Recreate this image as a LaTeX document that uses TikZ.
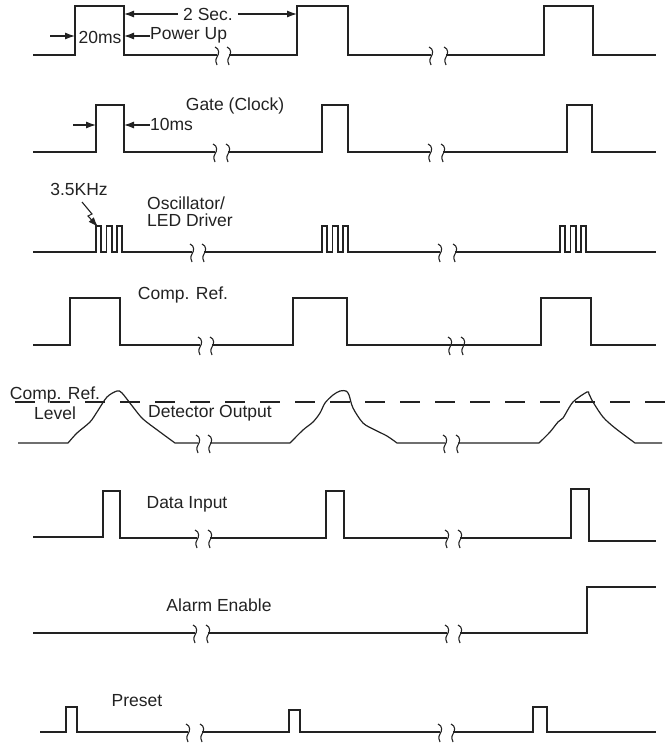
\documentclass[tikz,border=0pt]{standalone}
\usepackage{fontspec}
\setmainfont{Liberation Sans}
\usetikzlibrary{arrows.meta}
\definecolor{ink}{HTML}{222222}
\tikzset{
  wave/.style={draw=ink, line width=1.3pt, line join=miter},
  dim/.style={draw=ink, line width=1.1pt, -{Latex[length=10pt,width=7pt]}},
  lbl/.style={font=\fontsize{17.5}{17}\selectfont, text=ink, inner sep=0pt},
  brk/.pic={\draw[draw=ink, line width=1.1pt] (-2,-8) .. controls (3,-6) and (2,-1) .. (0,2) .. controls (-2,5) and (-1,8) .. (0,10);}
}
\begin{document}
\begin{tikzpicture}[x=1pt,y=-1pt]
\useasboundingbox (0,0) rectangle (669,750);
% ---------- Row 1: Power Up ----------
\draw[wave] (33,55) -- (75,55) -- (75,6) -- (124,6) -- (124,55) -- (217,55);
\draw[wave] (229,55) -- (297,55) -- (297,6) -- (348,6) -- (348,55) -- (431,55);
\draw[wave] (446,55) -- (544,55) -- (544,6) -- (593,6) -- (593,55) -- (656,55);
\pic at (217,55) {brk}; \pic at (229,55) {brk};
\pic at (431,55) {brk}; \pic at (446,55) {brk};
\coordinate (p1f) at (124,14); \coordinate (p2r) at (297,14);
\node[lbl] (twosec) at (208,14) {2 Sec.};
\draw[dim] (twosec.west) ++(-5,0) -- (p1f);
\draw[dim] (twosec.east) ++(5,0) -- (p2r);
\node[lbl] (ms20) at (100,37) {20ms};
\coordinate (a20s) at (50,36); \coordinate (a20e) at (75,36);
\draw[dim] (a20s) -- (a20e);
\node[lbl, anchor=west] (pwr) at (150,35) {Power Up};
\coordinate (pwe) at (124,36);
\draw[dim] (pwr.west |- pwe) -- (pwe);
% ---------- Row 2: Gate ----------
\draw[wave] (33,152) -- (96,152) -- (96,105) -- (124,105) -- (124,152) -- (215,152);
\draw[wave] (228,152) -- (322,152) -- (322,105) -- (348,105) -- (348,152) -- (430,152);
\draw[wave] (443,152) -- (567,152) -- (567,105) -- (592,105) -- (592,152) -- (656,152);
\pic at (215,152) {brk}; \pic at (228,152) {brk};
\pic at (430,152) {brk}; \pic at (443,152) {brk};
\node[lbl] (gate) at (235,106) {Gate (Clock)};
\coordinate (g1s) at (73,125); \coordinate (g1e) at (96,125);
\draw[dim] (g1s) -- (g1e);
\node[lbl, anchor=west] (ms10) at (150,124) {10ms};
\coordinate (g2e) at (124,125);
\draw[dim] (ms10.west |- g2e) -- (g2e);
% ---------- Row 3: Oscillator ----------
\draw[wave] (33,252) -- (96,252) -- (96,226) -- (101,226) -- (101,252) -- (106.5,252) -- (106.5,226) -- (112,226) -- (112,252) -- (117,252) -- (117,226) -- (122,226) -- (122,252) -- (192,252);
\draw[wave] (204,252) -- (322,252) -- (322,226) -- (327,226) -- (327,252) -- (332.5,252) -- (332.5,226) -- (338,226) -- (338,252) -- (343,252) -- (343,226) -- (348,226) -- (348,252) -- (440,252);
\draw[wave] (455,252) -- (560,252) -- (560,226) -- (565,226) -- (565,252) -- (570.5,252) -- (570.5,226) -- (576,226) -- (576,252) -- (581,252) -- (581,226) -- (586,226) -- (586,252) -- (656,252);
\pic at (192,252) {brk}; \pic at (204,252) {brk};
\pic at (440,252) {brk}; \pic at (455,252) {brk};
\node[lbl] (khz) at (79,189) {3.5KHz};
\coordinate (k0) at (82,202); \coordinate (k1) at (92,214); \coordinate (k2) at (88,216); \coordinate (k3) at (98,227);
\draw[dim] (k0) -- (k1) -- (k2) -- (k3);
\node[lbl, anchor=west, align=left] (osc) at (147,211.5) {Oscillator/\\LED Driver};
% ---------- Row 4: Comp. Ref. ----------
\draw[wave] (33,345) -- (70,345) -- (70,298) -- (120,298) -- (120,345) -- (200,345);
\draw[wave] (212,345) -- (293,345) -- (293,298) -- (347,298) -- (347,345) -- (450,345);
\draw[wave] (450,345) -- (541,345) -- (541,298) -- (591,298) -- (591,345) -- (656,345);
\pic at (200,345) {brk}; \pic at (212,345) {brk};
\pic at (450,345) {brk}; \pic at (463,345) {brk};
\node[lbl] (cref) at (183,295) {Comp. Ref.};
% ---------- Row 5: Detector Output ----------
\coordinate (dl0) at (15,402); \coordinate (dl1) at (669,402);
\draw[draw=ink, line width=1.3pt, dash pattern=on 20pt off 15pt] (dl0) -- (dl1);
\draw[wave, line width=1.2pt] (18,443) -- (68,443) plot[smooth, tension=0.5] coordinates {(68,443) (77,433) (90,422) (97,412) (107,397) (117,391) (122,393) (133,407) (143,419) (160,432) (175,443)} -- (198,443);
\draw[wave, line width=1.2pt] (210,443) -- (290,443) plot[smooth, tension=0.5] coordinates {(290,443) (303,430) (313,422) (320,413) (325,403) (333,395) (340,391) (346,391) (349,395) (353,408) (363,423) (375,430) (387,436) (397,443)} -- (445,443);
\draw[wave, line width=1.2pt] (458,443) -- (539,443) plot[smooth, tension=0.5] coordinates {(539,443) (550,432) (558,422) (563,418) (573,402) (587,392) (589,394) (593,402) (603,417) (615,428) (635,443)} -- (662,443);
\pic at (198,443) {brk}; \pic at (210,443) {brk};
\pic at (445,443) {brk}; \pic at (458,443) {brk};
\node[lbl] (crl1) at (55,395) {Comp. Ref.};
\node[lbl] (crl2) at (55,413) {Level};
\node[lbl] (det) at (210,413) {Detector Output};
% ---------- Row 6: Data Input ----------
\draw[wave] (33,537) -- (103,537) -- (103,491) -- (120,491) -- (120,538) -- (197,538);
\draw[wave] (210,538) -- (326,538) -- (326,491) -- (344,491) -- (344,538) -- (447,538);
\draw[wave] (460,538) -- (571,538) -- (571,489) -- (589,489) -- (589,541) -- (656,541);
\pic at (197,538) {brk}; \pic at (210,538) {brk};
\pic at (447,538) {brk}; \pic at (460,538) {brk};
\node[lbl] (data) at (187,504) {Data Input};
% ---------- Row 7: Alarm Enable ----------
\draw[wave] (33,633) -- (195,633);
\draw[wave] (208,633) -- (447,633);
\draw[wave] (460,633) -- (587,633) -- (587,587) -- (656,587);
\pic at (195,633) {brk}; \pic at (208,633) {brk};
\pic at (447,633) {brk}; \pic at (460,633) {brk};
\node[lbl] (alarm) at (219,605) {Alarm Enable};
% ---------- Row 8: Preset ----------
\draw[wave] (40,732) -- (66,732) -- (66,707) -- (77,707) -- (77,732) -- (188,732);
\draw[wave] (202,732) -- (289,732) -- (289,710) -- (300,710) -- (300,732) -- (440,732);
\draw[wave] (453,732) -- (533,732) -- (533,707) -- (547,707) -- (547,732) -- (656,732);
\pic at (188,732) {brk}; \pic at (202,732) {brk};
\pic at (440,732) {brk}; \pic at (453,732) {brk};
\node[lbl] (preset) at (137,701) {Preset};
\end{tikzpicture}
\end{document}
